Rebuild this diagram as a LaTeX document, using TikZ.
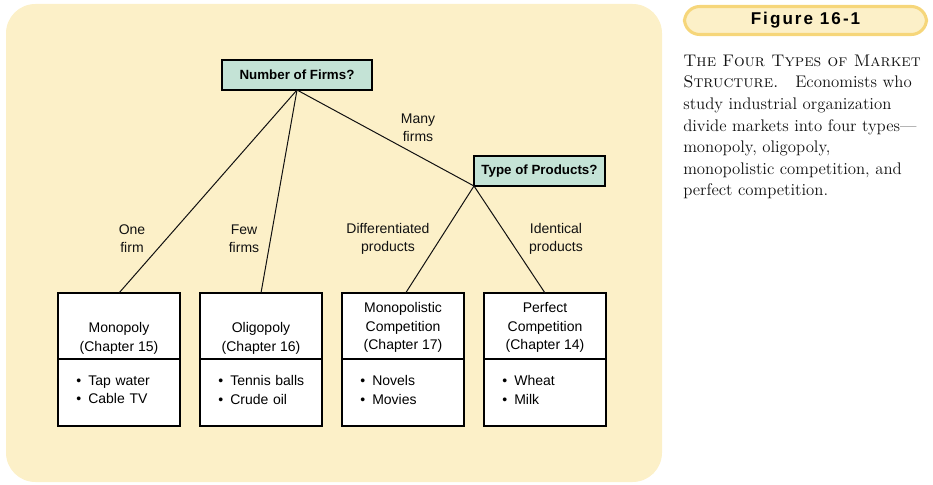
\documentclass[tikz,border=0pt]{standalone}
\usepackage{fontspec}
\setsansfont{Liberation Sans}
\newfontfamily\figheadfont[LetterSpace=12]{Liberation Sans}
\usetikzlibrary{positioning,shadows}
\definecolor{mktPanel}{HTML}{FCF0C8}
\definecolor{mktTeal}{HTML}{C4E3D6}
\definecolor{mktGold}{HTML}{F6D67A}
\definecolor{mktInk}{HTML}{111111}
\newcommand{\mktbullet}{\hspace*{4pt}\textbullet\hspace{5.3pt}}
\tikzset{
  mkt link/.style={draw=mktInk, line width=0.75pt},
  mkt shadow/.style={drop shadow={shadow xshift=0.9pt, shadow yshift=-0.9pt, fill=black!70, opacity=0.8}},
  mkt question/.style={draw=black, fill=mktTeal, line width=0.9pt, inner sep=0pt, outer sep=0pt, mkt shadow,
    font=\sffamily\bfseries\fontsize{10}{12}\selectfont},
  mkt head/.style={draw=black, fill=white, line width=0.9pt, inner sep=0pt, outer sep=0pt, mkt shadow,
    minimum width=91.5pt, minimum height=49.5pt, align=center, text depth=0pt,
    font=\sffamily\fontsize{10.5}{13.9}\selectfont},
  mkt list/.style={draw=black, fill=white, line width=0.9pt, inner sep=0pt, outer sep=0pt, mkt shadow,
    minimum width=91.5pt, minimum height=50.25pt, text width=72pt, align=left, text depth=17.5pt,
    font=\sffamily\fontsize{10.5}{13.6}\selectfont},
  mkt label/.style={align=center, inner sep=0pt, text=mktInk,
    font=\sffamily\fontsize{10.5}{13.5}\selectfont},
  mkt pill/.style={draw=mktGold, fill=mktPanel, line width=2.3pt, rounded corners=11.4pt,
    minimum width=181.5pt, minimum height=21pt, inner sep=0pt,
    font=\figheadfont\bfseries\fontsize{12.8}{14}\selectfont},
}

\begin{document}
\begin{tikzpicture}[x=0.75pt, y=-0.75pt]
  \useasboundingbox (0,0) rectangle (933,485);
  % Cream panel behind the tree
  \fill[mktPanel, rounded corners=22pt] (6,4) rectangle (662,482);

  % Questions
  \node[mkt question, minimum width=112.5pt, minimum height=22.5pt] (firms) at (297,75) {Number of Firms?};
  \node[mkt question, minimum width=98.25pt, minimum height=22.5pt] (products) at (539.5,171) {Type of Products?};

  % The four market types
  \node[mkt head] (mono) at (119,326) {\strut\\Monopoly\\(Chapter 15)};
  \node[mkt list, below=0pt of mono] (monoex) {\mktbullet Tap water\\\mktbullet Cable TV};
  \node[mkt head] (oligo) at (261,326) {\strut\\Oligopoly\\(Chapter 16)};
  \node[mkt list, below=0pt of oligo] (oligoex) {\mktbullet Tennis balls\\\mktbullet Crude oil};
  \node[mkt head] (moncomp) at (403,326) {Monopolistic\\Competition\\(Chapter 17)};
  \node[mkt list, below=0pt of moncomp] (moncompex) {\mktbullet Novels\\\mktbullet Movies};
  \node[mkt head] (perfect) at (545,326) {Perfect\\Competition\\(Chapter 14)};
  \node[mkt list, below=0pt of perfect] (perfectex) {\mktbullet Wheat\\\mktbullet Milk};

  % Branches
  \draw[mkt link] (firms.south) -- (mono.north);
  \draw[mkt link] (firms.south) -- (oligo.north);
  \draw[mkt link] (firms.south) -- (products.south west);
  \draw[mkt link] (products.south west) -- ([xshift=2pt]moncomp.north);
  \draw[mkt link] (products.south west) -- (perfect.north);

  % Branch labels
  \node[mkt label] (onefirm) at (132,239) {One\\firm};
  \node[mkt label] (fewfirms) at (244,239) {Few\\firms};
  \node[mkt label] (manyfirms) at (418,128) {Many\\firms};
  \node[mkt label] (diffprod) at (388,239) {Differentiated\\products};
  \node[mkt label] (identprod) at (556,239) {Identical\\products};

  % Figure caption on the right
  \node[mkt pill] (fighead) at (805.5,20.5) {Figure 16-1};
  \node[anchor=north west, align=left, inner sep=0pt, text=mktInk,
    font=\fontsize{12.6}{16.2}\selectfont] (caption) at (683,54.5)
    {\textsc{The Four Types of Market}\\
     \textsc{Structure.}\quad Economists who\\
     study industrial organization\\
     divide markets into four types---\\
     monopoly, oligopoly,\\
     monopolistic competition, and\\
     perfect competition.};
\end{tikzpicture}
\end{document}
